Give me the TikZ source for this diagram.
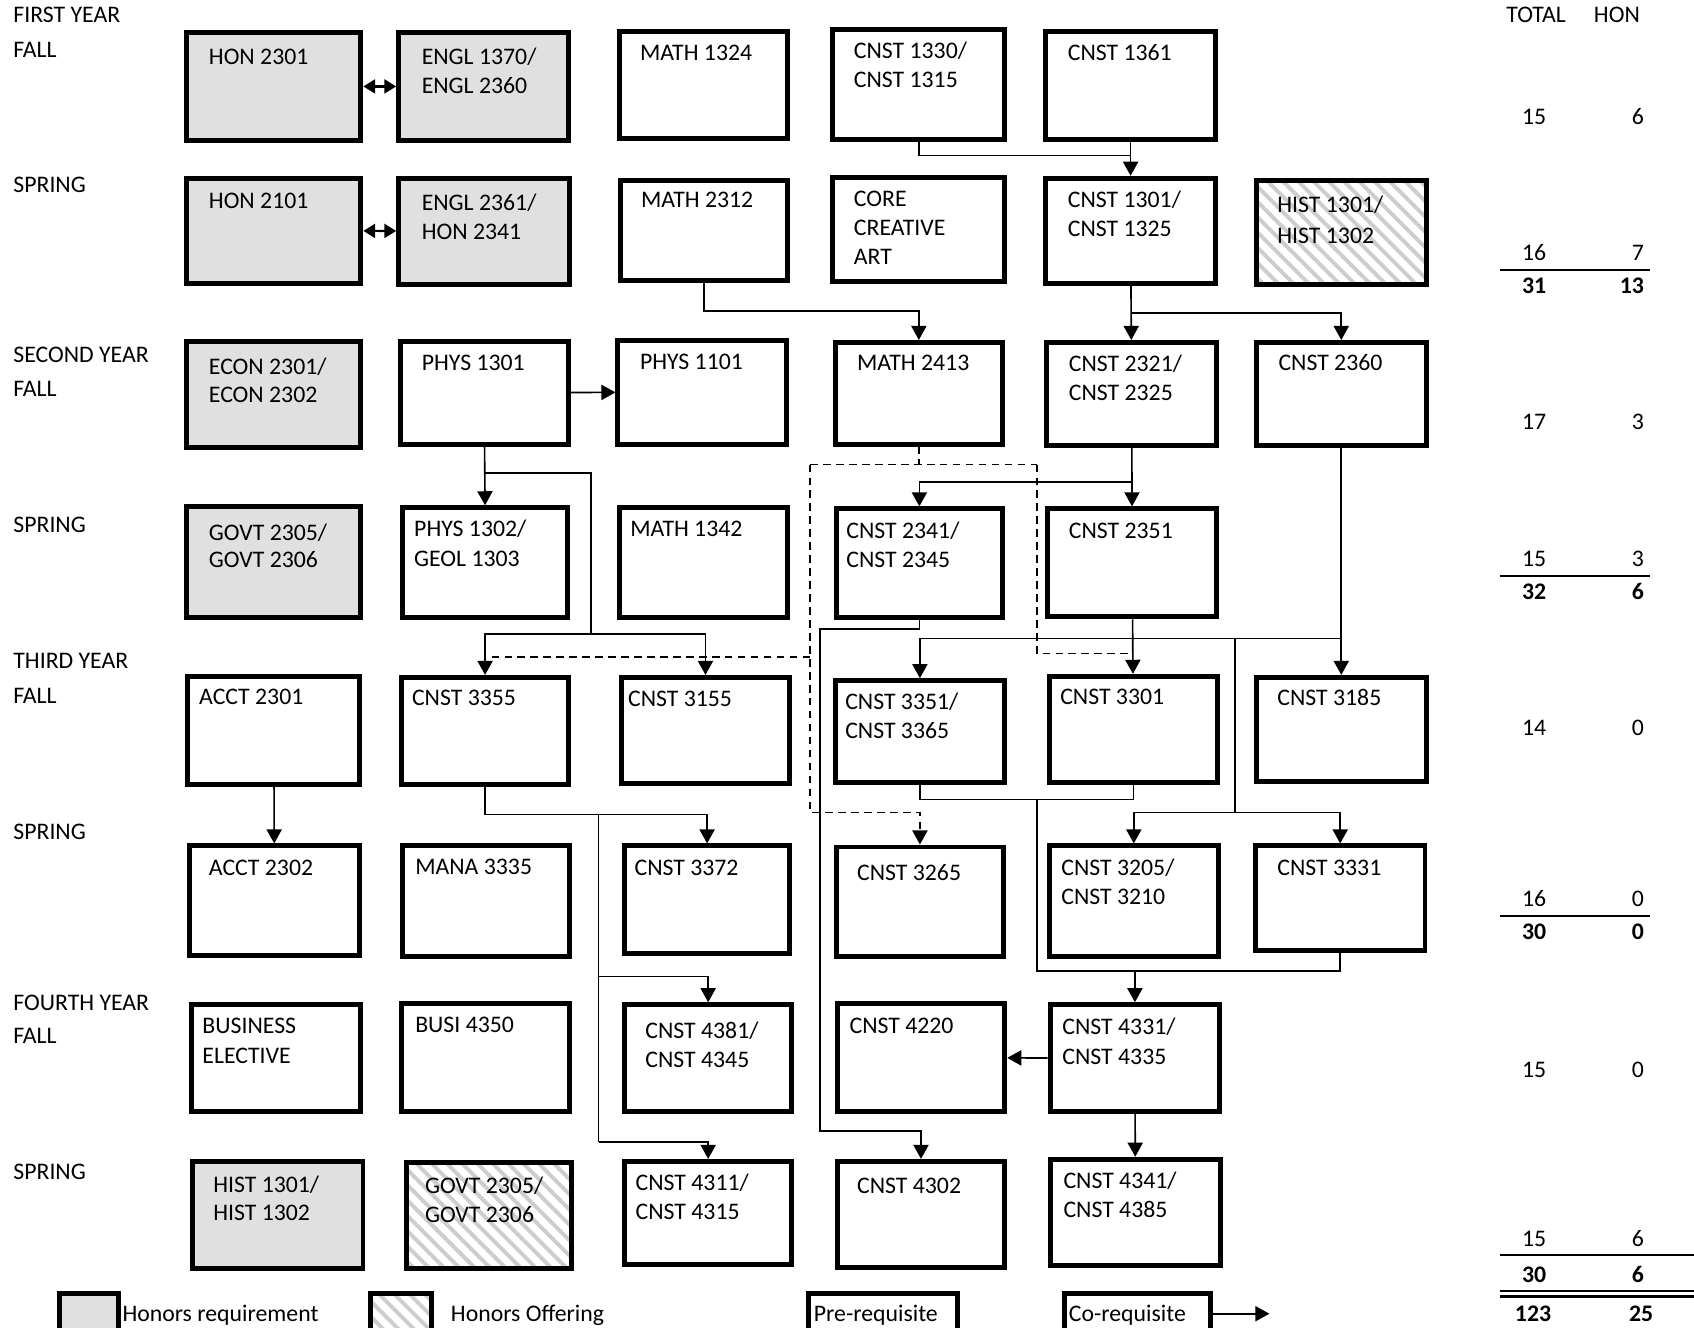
\documentclass[tikz,border=0pt]{standalone}
\usepackage{fontspec}
\setmainfont{Carlito}
\usetikzlibrary{arrows.meta,fit,patterns.meta}
\definecolor{reqgray}{RGB}{224,224,224}
\definecolor{hatchgray}{RGB}{205,205,205}
\begin{document}
\begin{tikzpicture}[x=0.5pt,y=-0.5pt,
  box/.style={draw, line width=2.3pt, inner sep=0pt, minimum size=0pt},
  req/.style={box, fill=reqgray},
  off/.style={box, pattern={Lines[angle=-45,distance=5pt,line width=1.8pt]}, pattern color=hatchgray},
  plain/.style={box, fill=white},
  lbl/.style={anchor=base west, inner sep=0pt, font=\fontsize{11pt}{13pt}\selectfont},
  numc/.style={anchor=base, inner sep=0pt, font=\fontsize{11pt}{13pt}\selectfont},
  numr/.style={anchor=base east, inner sep=0pt, font=\fontsize{11pt}{13pt}\selectfont},
  conn/.style={draw, line width=0.75pt},
  arr/.style={conn, -{Triangle[length=6.5pt,width=7pt]}},
  dsh/.style={conn, dash pattern=on 3.5pt off 2.5pt},
  dsharr/.style={dsh, -{Triangle[length=6.5pt,width=7pt]}},
  biarr/.style={conn, line width=1pt, {Triangle[length=5.5pt,width=6.5pt]}-{Triangle[length=5.5pt,width=6.5pt]}},
  sumline/.style={draw, line width=1pt}
]
\clip (0,0) rectangle (1568,1229);
\fill[white] (0,0) rectangle (1568,1229);

% ---------- left labels ----------
\node[lbl] (l1) at (12,21) {FIRST YEAR};
\node[lbl] (l2) at (12,53) {FALL};
\node[lbl] (l3) at (12,178) {SPRING};
\node[lbl] (l4) at (12,336) {SECOND YEAR};
\node[lbl] (l5) at (12,367) {FALL};
\node[lbl] (l6) at (12,493) {SPRING};
\node[lbl] (l7) at (12,619) {THIRD YEAR};
\node[lbl] (l8) at (12,651) {FALL};
\node[lbl] (l9) at (12,777) {SPRING};
\node[lbl] (l10) at (12,935) {FOURTH YEAR};
\node[lbl] (l11) at (12,966) {FALL};
\node[lbl] (l12) at (12,1092) {SPRING};

% ---------- boxes ----------
% row 1
\node[req, fit={(173,30) (334,130)}] (hon2301) {};
\node[req, fit={(369,30) (526,130)}] (engl1370) {};
\node[plain, fit={(573,29) (729,128)}] (math1324) {};
\node[plain, fit={(771,27) (930,129)}] (cnst1330) {};
\node[plain, fit={(968,29) (1125,129)}] (cnst1361) {};
% row 2
\node[req, fit={(173,165) (334,262)}] (hon2101) {};
\node[req, fit={(369,165) (527,263)}] (engl2361) {};
\node[plain, fit={(574,167) (729,260)}] (math2312) {};
\node[plain, fit={(771,164) (930,261)}] (core) {};
\node[plain, fit={(968,165) (1125,262)}] (cnst1301) {};
\node[off, fit={(1163,167) (1320,263)}] (hist1301a) {};
% row 3
\node[req, fit={(173,316) (334,414)}] (econ) {};
\node[plain, fit={(371,316) (526,411)}] (phys1301) {};
\node[plain, fit={(572,315) (728,411)}] (phys1101) {};
\node[plain, fit={(773,317) (928,411)}] (math2413) {};
\node[plain, fit={(969,317) (1126,412)}] (cnst2321) {};
\node[plain, fit={(1163,317) (1320,412)}] (cnst2360) {};
% row 4
\node[req, fit={(173,469) (334,572)}] (govt2305a) {};
\node[plain, fit={(373,470) (525,572)}] (phys1302) {};
\node[plain, fit={(573,470) (729,572)}] (math1342) {};
\node[plain, fit={(774,471) (928,572)}] (cnst2341) {};
\node[plain, fit={(970,471) (1126,571)}] (cnst2351) {};
% row 5
\node[plain, fit={(174,626) (333,726)}] (acct2301) {};
\node[plain, fit={(372,627) (526,726)}] (cnst3355) {};
\node[plain, fit={(575,627) (731,725)}] (cnst3155) {};
\node[plain, fit={(773,630) (930,724)}] (cnst3351) {};
\node[plain, fit={(971,626) (1127,724)}] (cnst3301) {};
\node[plain, fit={(1163,627) (1320,723)}] (cnst3185) {};
% row 6
\node[plain, fit={(175,783) (333,884)}] (acct2302) {};
\node[plain, fit={(373,783) (527,885)}] (mana3335) {};
\node[plain, fit={(578,783) (731,883)}] (cnst3372) {};
\node[plain, fit={(774,784) (929,885)}] (cnst3265) {};
\node[plain, fit={(971,783) (1128,885)}] (cnst3205) {};
\node[plain, fit={(1162,783) (1319,880)}] (cnst3331) {};
% row 7
\node[plain, fit={(177,930) (334,1029)}] (buselec) {};
\node[plain, fit={(372,929) (527,1029)}] (busi4350) {};
\node[plain, fit={(578,930) (733,1029)}] (cnst4381) {};
\node[plain, fit={(775,929) (930,1029)}] (cnst4220) {};
\node[plain, fit={(972,930) (1129,1029)}] (cnst4331) {};
% row 8
\node[req, fit={(178,1075) (336,1174)}] (hist1301b) {};
\node[off, fit={(376,1076) (529,1174)}] (govt2305b) {};
\node[plain, fit={(578,1075) (733,1170)}] (cnst4311) {};
\node[plain, fit={(775,1075) (930,1173)}] (cnst4302) {};
\node[plain, fit={(972,1073) (1130,1171)}] (cnst4341) {};

% ---------- box texts ----------
\node[lbl] (t-hon2301) at (193,60) {HON 2301};
\node[lbl] (t-engl1370a) at (390,60) {ENGL 1370/};
\node[lbl] (t-engl1370b) at (390,87) {ENGL 2360};
\node[lbl] (t-math1324) at (592,56) {MATH 1324};
\node[lbl] (t-cnst1330a) at (790,54) {CNST 1330/};
\node[lbl] (t-cnst1330b) at (790,81) {CNST 1315};
\node[lbl] (t-cnst1361) at (988,56) {CNST 1361};

\node[lbl] (t-hon2101) at (193,193) {HON 2101};
\node[lbl] (t-engl2361a) at (390,195) {ENGL 2361/};
\node[lbl] (t-engl2361b) at (390,222) {HON 2341};
\node[lbl] (t-math2312) at (593,192) {MATH 2312};
\node[lbl] (t-corea) at (790,191) {CORE};
\node[lbl] (t-coreb) at (790,218) {CREATIVE};
\node[lbl] (t-corec) at (790,245) {ART};
\node[lbl] (t-cnst1301a) at (988,192) {CNST 1301/};
\node[lbl] (t-cnst1301b) at (988,219) {CNST 1325};
\node[lbl] (t-hist1301aa) at (1182,197) {HIST 1301/};
\node[lbl] (t-hist1301ab) at (1182,225) {HIST 1302};

\node[lbl] (t-econa) at (193,347) {ECON 2301/};
\node[lbl] (t-econb) at (193,373) {ECON 2302};
\node[lbl] (t-phys1301) at (390,343) {PHYS 1301};
\node[lbl] (t-phys1101) at (592,342) {PHYS 1101};
\node[lbl] (t-math2413) at (793,343) {MATH 2413};
\node[lbl] (t-cnst2321a) at (989,344) {CNST 2321/};
\node[lbl] (t-cnst2321b) at (989,371) {CNST 2325};
\node[lbl] (t-cnst2360) at (1183,343) {CNST 2360};

\node[lbl] (t-govt2305aa) at (193,500) {GOVT 2305/};
\node[lbl] (t-govt2305ab) at (193,525) {GOVT 2306};
\node[lbl] (t-phys1302a) at (383,497) {PHYS 1302/};
\node[lbl] (t-phys1302b) at (383,524) {GEOL 1303};
\node[lbl] (t-math1342) at (583,497) {MATH 1342};
\node[lbl] (t-cnst2341a) at (783,498) {CNST 2341/};
\node[lbl] (t-cnst2341b) at (783,525) {CNST 2345};
\node[lbl] (t-cnst2351) at (989,498) {CNST 2351};

\node[lbl] (t-acct2301) at (184,652) {ACCT 2301};
\node[lbl] (t-cnst3355) at (381,653) {CNST 3355};
\node[lbl] (t-cnst3155) at (581,654) {CNST 3155};
\node[lbl] (t-cnst3351a) at (782,657) {CNST 3351/};
\node[lbl] (t-cnst3351b) at (782,684) {CNST 3365};
\node[lbl] (t-cnst3301) at (981,652) {CNST 3301};
\node[lbl] (t-cnst3185) at (1182,653) {CNST 3185};

\node[lbl] (t-acct2302) at (193,810) {ACCT 2302};
\node[lbl] (t-mana3335) at (384,809) {MANA 3335};
\node[lbl] (t-cnst3372) at (587,810) {CNST 3372};
\node[lbl] (t-cnst3265) at (793,815) {CNST 3265};
\node[lbl] (t-cnst3205a) at (982,810) {CNST 3205/};
\node[lbl] (t-cnst3205b) at (982,837) {CNST 3210};
\node[lbl] (t-cnst3331) at (1182,810) {CNST 3331};

\node[lbl] (t-buselca) at (187,957) {BUSINESS};
\node[lbl] (t-buselcb) at (187,984) {ELECTIVE};
\node[lbl] (t-busi4350) at (384,956) {BUSI 4350};
\node[lbl] (t-cnst4381a) at (597,961) {CNST 4381/};
\node[lbl] (t-cnst4381b) at (597,988) {CNST 4345};
\node[lbl] (t-cnst4220) at (786,957) {CNST 4220};
\node[lbl] (t-cnst4331a) at (983,958) {CNST 4331/};
\node[lbl] (t-cnst4331b) at (983,985) {CNST 4335};

\node[lbl] (t-hist1301ba) at (197,1104) {HIST 1301/};
\node[lbl] (t-hist1301bb) at (197,1130) {HIST 1302};
\node[lbl] (t-govt2305ba) at (393,1105) {GOVT 2305/};
\node[lbl] (t-govt2305bb) at (393,1132) {GOVT 2306};
\node[lbl] (t-cnst4311a) at (588,1102) {CNST 4311/};
\node[lbl] (t-cnst4311b) at (588,1129) {CNST 4315};
\node[lbl] (t-cnst4302) at (793,1105) {CNST 4302};
\node[lbl] (t-cnst4341a) at (984,1100) {CNST 4341/};
\node[lbl] (t-cnst4341b) at (984,1127) {CNST 4385};

% ---------- junction coordinates ----------
\coordinate (y144) at (0,144);
\coordinate (y288) at (0,288);
\coordinate (y290) at (0,290);
\coordinate (y438) at (0,438);
\coordinate (y446) at (0,446);
\coordinate (y582) at (0,582);
\coordinate (y591) at (0,591);
\coordinate (y605) at (0,605);
\coordinate (y608) at (0,608);
\coordinate (y740) at (0,740);
\coordinate (y754) at (0,754);
\coordinate (y1047) at (0,1047);
\coordinate (j547) at (547,587);
\coordinate (d1) at (750,430);
\coordinate (d2) at (960,430);
\coordinate (d3) at (750,752);
\coordinate (d4) at (750,608);
\coordinate (e1) at (759,582);
\coordinate (e2) at (759,1047);
\coordinate (f1) at (1143,591);
\coordinate (f2) at (1143,752);
\coordinate (g1) at (960,740);
\coordinate (g2) at (960,899);
\coordinate (k1) at (554,754);
\coordinate (k2) at (554,904);
\coordinate (k3) at (554,1057);

% ---------- connectors ----------
\draw[biarr] (hon2301) -- (engl1370);
\draw[biarr] (hon2101) -- (engl2361);
\draw[conn] (cnst1330.south) |- (cnst1361.south |- y144);
\draw[arr] (cnst1361) -- (cnst1301);
\draw[arr] (math2312.south) |- (math2413.north |- y288) -- (math2413.north);
\draw[arr] (cnst1301) -- (cnst2321);
\draw[arr] (cnst1301.south |- y290) -| (cnst2360.north);
\draw[arr] (phys1301) -- (phys1101);
\draw[arr] (phys1301.south) -- (phys1302.north);
\draw[conn] (phys1301.south |- y438) -| (j547);
\draw[arr] (j547) -| (cnst3355.north);
\draw[arr] (j547) -| (cnst3155.north);
% dashed (MATH 2413)
\draw[dsh] (math2413.south) -- (math2413.south |- d1);
\draw[dsh] (d1) -- (d2);
\draw[dsharr] (d1) |- (cnst3265.north |- d3) -- (cnst3265.north);
\draw[dsh] (d4) -- (cnst3355.north |- y608);
\draw[dsh] (d2) |- (cnst3301.north |- y605);
% CNST 2321
\draw[arr] (cnst2321) -- (cnst2351);
\draw[arr] (cnst2321.south |- y446) -| (cnst2341.north);
% CNST 2341 -> CNST 4302
\draw[arr] (cnst2341.south) |- (e1) -- (e2) -| (cnst4302.north);
% CNST 2351, CNST 2360
\draw[arr] (cnst2351) -- (cnst3301);
\draw[arr] (cnst2360) -- (cnst3185);
\draw[arr] (cnst2360.south |- y591) -| (cnst3351.north);
\draw[conn] (f1) -- (f2);
\draw[arr] (f2) -| (cnst3205.north);
\draw[arr] (f2) -| (cnst3331.north);
% to CNST 4331
\draw[conn] (cnst3351.south) |- (cnst3301.south |- y740) -- (cnst3301.south);
\draw[conn] (g1) -- (g2) -| (cnst3331.south);
\draw[arr] (cnst4331.north |- g2) -- (cnst4331.north);
\draw[arr] (cnst4331) -- (cnst4220);
\draw[arr] (cnst4331) -- (cnst4341);
\draw[arr] (acct2301) -- (acct2302);
% CNST 3355
\draw[arr] (cnst3355.south) |- (cnst3372.north |- y754) -- (cnst3372.north);
\draw[conn] (k1) -- (k3);
\draw[arr] (k2) -| (cnst4381.north);
\draw[arr] (k3) -| (cnst4311.north);

% ---------- totals ----------
\node[lbl] (h-total) at (1394,21) {TOTAL};
\node[lbl] (h-hon) at (1475,21) {HON};
\node[numc] (n1a) at (1420,115) {15};
\node[numr] (n1b) at (1522,115) {6};
\node[numc] (n2a) at (1420,241) {16};
\node[numr] (n2b) at (1522,241) {7};
\draw[sumline] (1388,250) -- (1527,250);
\node[numc] (s1a) at (1420,272) {\bfseries 31};
\node[numr] (s1b) at (1522,272) {\bfseries 13};
\node[numc] (n3a) at (1420,398) {17};
\node[numr] (n3b) at (1522,398) {3};
\node[numc] (n4a) at (1420,524) {15};
\node[numr] (n4b) at (1522,524) {3};
\draw[sumline] (1388,533) -- (1527,533);
\node[numc] (s2a) at (1420,555) {\bfseries 32};
\node[numr] (s2b) at (1522,555) {\bfseries 6};
\node[numc] (n5a) at (1420,681) {14};
\node[numr] (n5b) at (1522,681) {0};
\node[numc] (n6a) at (1420,839) {16};
\node[numr] (n6b) at (1522,839) {0};
\draw[sumline] (1388,848) -- (1527,848);
\node[numc] (s3a) at (1420,870) {\bfseries 30};
\node[numr] (s3b) at (1522,870) {\bfseries 0};
\node[numc] (n7a) at (1420,997) {15};
\node[numr] (n7b) at (1522,997) {0};
\node[numc] (n8a) at (1420,1154) {15};
\node[numr] (n8b) at (1522,1154) {6};
\draw[sumline] (1388,1162) -- (1568,1162);
\node[numc] (s4a) at (1420,1187) {\bfseries 30};
\node[numr] (s4b) at (1522,1187) {\bfseries 6};
\draw[sumline] (1388,1195) -- (1568,1195);
\draw[sumline] (1388,1200) -- (1568,1200);
\node[numc] (s5a) at (1419,1223) {\bfseries 123};
\node[numc] (s5b) at (1519,1223) {\bfseries 25};

% ---------- legend ----------
\node[req, fit={(55,1197) (110,1250)}] (leg-req) {};
\node[lbl] (leg-req-t) at (113,1223) {Honors requirement};
\node[off, fit={(343,1197) (399,1250)}] (leg-off) {};
\node[lbl] (leg-off-t) at (417,1223) {Honors Offering};
\node[plain, fit={(748,1197) (886,1250)}] (leg-pre) {};
\node[lbl] (leg-pre-t) at (753,1223) {Pre-requisite};
\node[plain, fit={(985,1197) (1120,1250)}] (leg-co) {};
\node[lbl] (leg-co-t) at (989,1223) {Co-requisite};
\coordinate (leg-end) at (1175,1216);
\draw[arr] (leg-co.east |- leg-end) -- (leg-end);
\end{tikzpicture}
\end{document}
